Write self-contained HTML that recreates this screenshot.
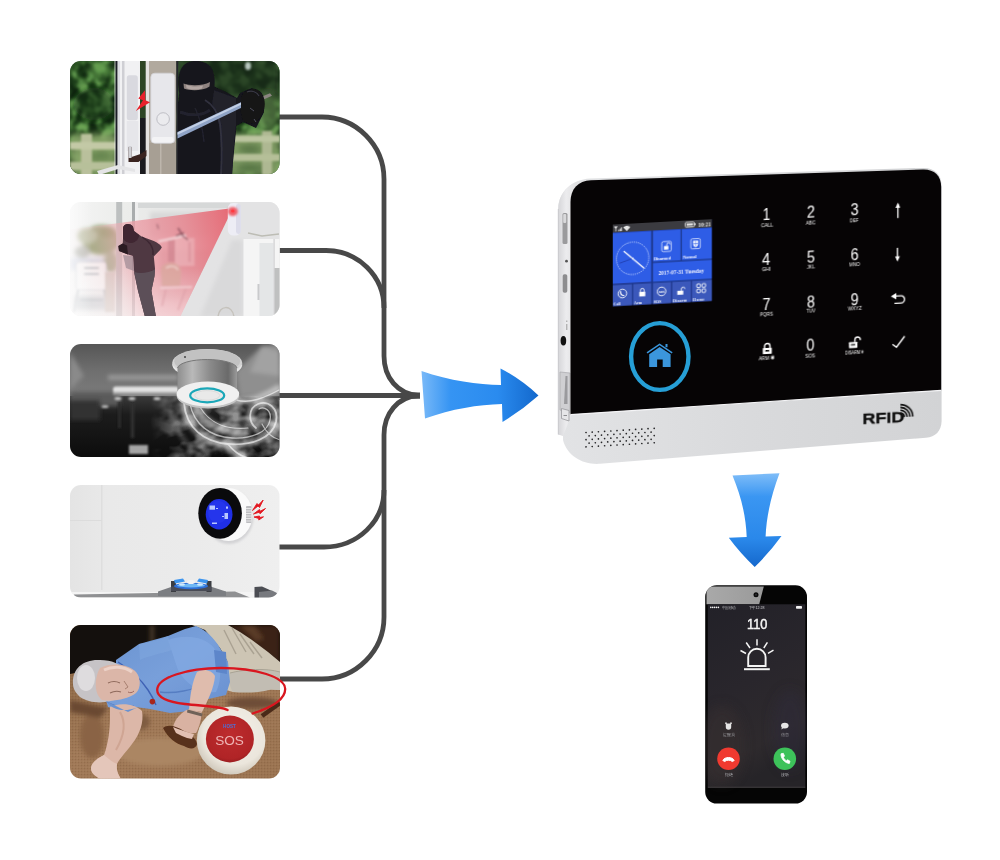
<!DOCTYPE html>
<html><head><meta charset="utf-8">
<style>
html,body{margin:0;padding:0;background:#fff;}
body{width:1000px;height:860px;overflow:hidden;font-family:"Liberation Sans",sans-serif;}
svg{display:block;position:absolute;left:0;top:0;}
text{font-family:"Liberation Sans",sans-serif;}
text.sf{font-family:"Liberation Serif",serif;}
</style></head><body>
<svg width="1000" height="860" viewBox="0 0 1000 860">
<defs>
<clipPath id="c1"><rect x="70" y="61" width="209.500" height="113" rx="11"/></clipPath>
<clipPath id="c2"><rect x="70" y="202" width="209.500" height="114" rx="11"/></clipPath>
<clipPath id="c3"><rect x="70" y="344" width="209.500" height="113" rx="11"/></clipPath>
<clipPath id="c4"><rect x="70" y="485" width="209.500" height="112.500" rx="11"/></clipPath>
<clipPath id="c5"><rect x="70" y="625" width="210" height="153.500" rx="11"/></clipPath>
<filter id="b1" x="-20%" y="-20%" width="140%" height="140%"><feGaussianBlur stdDeviation="1"/></filter>
<filter id="b2" x="-20%" y="-20%" width="140%" height="140%"><feGaussianBlur stdDeviation="2"/></filter>
<filter id="b3" x="-20%" y="-20%" width="140%" height="140%"><feGaussianBlur stdDeviation="3.500"/></filter>
<filter id="b6" x="-30%" y="-30%" width="160%" height="160%"><feGaussianBlur stdDeviation="6"/></filter>
<filter id="t0" x="-10%" y="-10%" width="120%" height="120%"><feGaussianBlur stdDeviation="0.350"/></filter>
<filter id="bh" x="-20%" y="-20%" width="140%" height="140%"><feGaussianBlur stdDeviation="0.500"/></filter>
<linearGradient id="ga" x1="0" x2="1" y1="0" y2="0"><stop offset="0" stop-color="#79b9f8"/><stop offset="0.250" stop-color="#3594f3"/><stop offset="0.650" stop-color="#2a8bef"/><stop offset="1" stop-color="#1368cc"/></linearGradient>
<linearGradient id="gd" x1="0" x2="0" y1="0" y2="1"><stop offset="0" stop-color="#7fbdf8"/><stop offset="0.250" stop-color="#3a96f2"/><stop offset="0.700" stop-color="#2a88ea"/><stop offset="1" stop-color="#1568cc"/></linearGradient>
</defs>

<!-- ====== CONNECTOR LINES ====== -->
<g id="lines" fill="none" stroke="#484848" stroke-width="4.800" stroke-linecap="butt" stroke-linejoin="round">
<path d="M279 117 H322 C356 117 384 145 384 179 V356 C384 378 398 394 418 395.500"/>
<path d="M279 250.500 H326 C358 250.500 384 276 384 308"/>
<path d="M279 395.500 H420"/>
<path d="M279 547 H324 C358 547 384 521 384 490"/>
<path d="M279 679 H322 C356 679 384 651 384 617 V435 C384 413 398 397 418 395.500"/>
</g>
<path d="M398 395.500 C406 392 412 392.400 420 392.400 V398.800 C412 398.800 406 399 398 395.500Z" fill="#484848"/>

<!-- ====== BLUE ARROWS ====== -->
<path id="arrR" d="M421.500 371 C450 381 478 384.500 501 385 L500.500 368.500 Q521 379 538.500 395.500 Q521 411 502.500 422 L502 404 C478 404.500 452 409 425 418.500 Z" fill="url(#ga)"/>
<path id="arrD" d="M732.500 475.500 L779.500 473.300 C771 496 766.500 516 765.600 536.500 L781.500 536 Q770 552 754.700 567 Q740 553 728.800 537.800 L746.700 537 C746 516 741 496 732.500 475.500 Z" fill="url(#gd)"/>

<!-- TILE1S -->
<g clip-path="url(#c1)">
<rect x="70" y="61" width="210" height="114" fill="#2c4a27"/>
<filter id="leaf" x="0" y="0" width="100%" height="100%" color-interpolation-filters="sRGB"><feTurbulence type="fractalNoise" baseFrequency="0.090 0.080" numOctaves="2" seed="7"/><feColorMatrix type="matrix" values="2.600 0 0 0 -0.800  2.600 0 0 0 -0.800  2.600 0 0 0 -0.800  0 0 0 0 1"/><feComponentTransfer><feFuncR type="table" tableValues="0.060 0.110 0.200 0.330 0.420"/><feFuncG type="table" tableValues="0.150 0.240 0.370 0.540 0.640"/><feFuncB type="table" tableValues="0.060 0.100 0.160 0.270 0.330"/></feComponentTransfer><feGaussianBlur stdDeviation="0.800"/></filter>
<rect x="70" y="61" width="210" height="114" filter="url(#leaf)"/>
<g filter="url(#b3)">
<ellipse cx="100" cy="70" rx="12" ry="7" fill="#5f9a4c" opacity="0.700"/>
<ellipse cx="94" cy="104" rx="20" ry="16" fill="#16301a" opacity="0.550"/>
<rect x="70" y="134" width="48" height="44" fill="#8aa46a" opacity="0.900"/>
<rect x="176" y="58" width="104" height="42" fill="#182c1c" opacity="0.780"/>
<ellipse cx="268" cy="112" rx="12" ry="18" fill="#5c7d4a" opacity="0.700"/>
<rect x="228" y="134" width="52" height="42" fill="#88a26a" opacity="0.900"/>
<ellipse cx="250" cy="149" rx="14" ry="4" fill="#4f7040"/>
<ellipse cx="250" cy="168" rx="16" ry="5" fill="#4f7040"/>
<ellipse cx="100" cy="156" rx="14" ry="4" fill="#5f8048"/>
</g>
<g filter="url(#b1)">
<rect x="81" y="134" width="11" height="42" fill="#b9c09c"/>
<rect x="70" y="142" width="48" height="7.500" fill="#c3c9a6"/>
<rect x="70" y="162" width="48" height="8" fill="#b7c09a"/>
<rect x="262" y="131" width="10" height="44" fill="#aeb892"/>
<rect x="232" y="135.500" width="48" height="6.500" fill="#bcc5a0"/>
<rect x="232" y="154" width="48" height="7" fill="#b5bf98"/>
<ellipse cx="248" cy="66" rx="3" ry="4" fill="#b8c8c0"/>
</g>
<!-- door frames -->
<rect x="114.600" y="61" width="1" height="114" fill="#e8ece8"/>
<rect x="115.600" y="61" width="2.200" height="114" fill="#1c1c28"/>
<rect x="117.500" y="61" width="22.500" height="114" fill="#f1f1f3"/>
<rect x="122" y="61" width="2.500" height="114" fill="#cfcfd4"/>
<rect x="118" y="61" width="2" height="114" fill="#dcdce2"/>
<rect x="140" y="61" width="6" height="114" fill="#2d4524"/>
<rect x="140" y="118" width="6" height="57" fill="#1a1a1e"/>
<rect x="145.700" y="61" width="3.500" height="114" fill="#e4e2e0"/>
<rect x="149" y="61" width="27.500" height="114" fill="#b1a99e"/>
<rect x="149" y="143" width="27.500" height="32" fill="#a79f94"/>
<rect x="160" y="143" width="1.500" height="32" fill="#bdb6ac"/>
<rect x="176.300" y="61" width="2" height="114" fill="#25252c"/>
<!-- magnet + sensor -->
<rect x="126.800" y="75.300" width="11" height="45" rx="2.500" fill="#d9d9df"/>
<rect x="126.800" y="121" width="11.500" height="30" fill="#e6e6ea"/>
<rect x="150.800" y="73.200" width="24" height="70" rx="4" fill="#e7e7eb" stroke="#d2d2d6" stroke-width="0.800"/>
<rect x="152" y="137" width="21.500" height="5.500" rx="2" fill="#f3f3f5"/>
<circle cx="163.100" cy="119" r="6.300" fill="#ebebee" stroke="#b9b9c0" stroke-width="0.900"/>
<!-- handle -->
<path d="M128.500 147 h3 v10 l9 -3 l6 -4 v6 l-8 6 h-10 z" fill="#3a2420"/>
<rect x="128.500" y="146" width="3" height="12" fill="#d0d0d4"/>
<path d="M97 171 L118 165 L135 169 L135 172 L118 169 L99 175Z" fill="#e4e4e6"/>
<!-- bolt -->
<path d="M145 90.300 L138.300 98.600 L143 100.200 L135.800 111 L150 102.300 L145.300 100.300 Z" fill="#e8212b"/>
<!-- burglar -->
<g filter="url(#bh)">
<path d="M178 104 L178 175 L232 175 C233 160 235 142 236.500 126 L243 122 L256 128 L264 112 L262 96 L252 88 L240 93 L237 98 L226 92 L213 86 L200 84 L180 90 Z" fill="#14141b"/>
<path d="M179 92 C177 70 182 61 196 61 C210 61 216 70 214.500 86 C214 98 206 107 197 107 C188 107 180 102 179 92Z" fill="#17171c"/>
<path d="M183.500 83.500 C190 86 203 86 210 82 L209.500 86.500 C203 91 190 91 184 88.500Z" fill="#8f8380"/>
<path d="M186 84.500 C191 87 198 87 203 85.500 L202 88.500 C197 90 190 90 186.500 88Z" fill="#c9bcb8" opacity="0.600"/>
<path d="M214 90 L236 98 L236 126 C234 142 233 158 232 175 L222 175 C223 150 222 125 212 104Z" fill="#20202c"/>
<path d="M205 100 C212 104 218 112 220 124 C222 140 222 158 221 175" stroke="#30303e" stroke-width="2" fill="none"/>
<path d="M180 112 C190 116 202 116 210 110" stroke="#24242e" stroke-width="3" fill="none"/>
<path d="M195 108 C200 118 203 130 204 142" stroke="#23232e" stroke-width="1.500" fill="none"/>
</g>
<path d="M177.500 132 L243 101.300 L245 106 L177.500 138.600 Z" fill="#8fa3c6"/>
<path d="M177.500 132.600 L243 101.800 L243.700 103.500 L177.500 134.800 Z" fill="#c3d0e6"/>
<path d="M256 99 L270 93.200 L272 95.800 L257 102.500Z" fill="#8b8580"/>
<g filter="url(#bh)">
<path d="M241 97 C243 90 252 87 258 90 C264 93 266 102 264 110 C262 118 256 125 249 124 C243 123 240 116 241 108Z" fill="#121217"/>
<path d="M247 92 C252 90 257 92 259 96" stroke="#3a3a44" stroke-width="1.200" fill="none"/>
<path d="M250 108 l4 3 M254 119 l2 3" stroke="#55555f" stroke-width="1" fill="none"/>
</g>
</g>
<!-- TILE1E -->
<!-- TILE2S -->
<g clip-path="url(#c2)">
<defs>
<linearGradient id="t2bg" x1="0" x2="1" y1="0" y2="0"><stop offset="0" stop-color="#f4f4f4"/><stop offset="0.250" stop-color="#ecedeb"/><stop offset="0.700" stop-color="#e2e2e3"/><stop offset="1" stop-color="#e9e9ea"/></linearGradient>
<linearGradient id="beam" gradientUnits="userSpaceOnUse" x1="234" y1="209" x2="70" y2="250"><stop offset="0" stop-color="#e5606c" stop-opacity="0.950"/><stop offset="0.300" stop-color="#e7858f" stop-opacity="0.860"/><stop offset="0.600" stop-color="#eb9ea7" stop-opacity="0.780"/><stop offset="0.720" stop-color="#eeb0b6" stop-opacity="0.550"/><stop offset="0.850" stop-color="#f0c0c4" stop-opacity="0.220"/><stop offset="1" stop-color="#f3d0d4" stop-opacity="0.050"/></linearGradient>
<linearGradient id="beamfade" x1="0" x2="0" y1="0" y2="1"><stop offset="0" stop-color="#fff" stop-opacity="0"/><stop offset="1" stop-color="#fff" stop-opacity="0.450"/></linearGradient>
<linearGradient id="t2fade" x1="0" x2="1" y1="0" y2="0"><stop offset="0" stop-color="#fff" stop-opacity="0.600"/><stop offset="1" stop-color="#fff" stop-opacity="0"/></linearGradient>
</defs>
<rect x="70" y="202" width="210" height="115" fill="url(#t2bg)"/>
<g filter="url(#b2)">
<ellipse cx="101" cy="240" rx="19" ry="15" fill="#9ba77d"/>
<ellipse cx="108" cy="232" rx="8" ry="6" fill="#8a9a68"/>
<ellipse cx="87" cy="236" rx="10" ry="8" fill="#bcc4a8"/>
<ellipse cx="111" cy="262" rx="7" ry="11" fill="#a9b294"/>
<ellipse cx="82" cy="252" rx="8" ry="6" fill="#b9bdb6"/>
<rect x="70" y="258" width="34" height="12" fill="#d9dee8"/>
<rect x="74" y="296" width="36" height="14" fill="#d0d3d6"/>
<rect x="150" y="212" width="60" height="24" fill="#d8d8d8"/>
<rect x="160" y="250" width="50" height="50" fill="#cfcaca"/>
</g>
<g filter="url(#b1)">
<rect x="76" y="262" width="30" height="28" rx="3" fill="#f7f7f7" stroke="#d5d8dc" stroke-width="1"/>
<path d="M78 290 L74 312 M104 290 L108 312 M80 300 H103 M84 268 H99 M84 274 H99" stroke="#bfc4c8" stroke-width="1.800" fill="none"/>
<rect x="105" y="272" width="10" height="40" fill="#d6cfc8"/>
</g>
<!-- frames -->
<rect x="116.200" y="202" width="6" height="115" fill="#bdc0c0"/>
<rect x="132" y="202" width="3" height="115" fill="#a9acad"/>
<rect x="135" y="202" width="3.500" height="115" fill="#eeeeee"/>
<rect x="138" y="203" width="92" height="5" fill="#d6d8d8"/>
<!-- wall right -->
<path d="M232 209 L180 317 L280 317 L280 202 L232 202Z" fill="#e3e3e4"/>
<path d="M232 240 L200 317 L243 317 L243 240Z" fill="#d9d9da" filter="url(#b2)"/>
<!-- beam -->
<path d="M233 208 L70 229.500 L70 317 L180 317 Z" fill="url(#beam)"/>
<path d="M70 268 L204 268 L180 317 L70 317Z" fill="url(#beamfade)"/>
<rect x="70" y="202" width="22" height="115" fill="url(#t2fade)"/>
<!-- interior furniture silhouettes in beam -->
<g filter="url(#b1)">
<rect x="168" y="240" width="7" height="22" fill="#c9808a" opacity="0.550"/>
<rect x="175" y="238" width="19.500" height="28" fill="#f0c4c8" opacity="0.450"/>
<rect x="188" y="242" width="3" height="20" fill="#d58a94" opacity="0.500"/>
<path d="M158 240.500 L186 234.600 L186.300 236.600 L158.300 242.500Z" fill="#f6e2e4" opacity="0.850"/>
<path d="M178 228 L183 236 L188 240 M176 236 L184 233" stroke="#7a4452" stroke-width="1.500" fill="none" opacity="0.800"/>
<path d="M157 224 l1.500 5" stroke="#8a5560" stroke-width="1.200" opacity="0.700"/>
<path d="M161 270 C161 264 168 262 174 263 C180 264 182 270 181 276 L180 286 L162 286Z" fill="#d8aa9e" opacity="0.700"/>
<path d="M166 268 C170 265 176 266 178 270" stroke="#f2dcd6" stroke-width="1.500" fill="none" opacity="0.800"/>
<path d="M160 288 L192 287" stroke="#f6e0e2" stroke-width="1.600" opacity="0.800"/>
<path d="M166 289 L162 306 M186 288 L178 310" stroke="#d89aa2" stroke-width="1.300" opacity="0.700"/>
<rect x="147" y="250" width="2.500" height="40" fill="#ecc8cc" opacity="0.600"/>
</g>
<!-- burglar -->
<g filter="url(#bh)">
<path d="M123 228 C123.500 223.500 130 222.500 133 226.500 L134 231 L141.600 236.500 L153.800 241 C158 243 161.500 245.500 161.800 247.600 C160 251 156 254 153.800 256.500 L155 268.700 L154.500 276 L151.400 290.700 L155.700 315 L156 317 L145 317 L138 290.700 L134.300 273.600 L133 256 L128 254.500 L119 251 L118.400 246 L122.700 243.500 L123 238.200 Z" fill="#4f3742"/>
<path d="M123 228 C123.500 223.500 130 222.500 133 226.500 L134 231 L139 235 C139 239 136 242 132 243 C128 243 124 241 123 238.200Z" fill="#3f2630"/>
<path d="M134.300 272 C140 274 149 273 155 269.500 L154.500 276 L151.400 290.700 L155.700 315 L156 317 L145 317 L138 290.700Z" fill="#5c5059"/>
<path d="M118.400 246 L122.700 243.500 L127 245.500 L128 254.500 L119 251Z" fill="#2c1a22"/>
<path d="M123 255 L133 256 L134 271 L126 268 Z" fill="#8f808a" opacity="0.600"/>
<path d="M142 237 C149 241 154 247 153 255" stroke="#3d2832" stroke-width="1.400" fill="none"/>
</g>
<!-- cabinet -->
<rect x="243.500" y="239" width="37" height="78" fill="#f5f5f5"/>
<rect x="259.500" y="243" width="14" height="74" fill="#e4e6e7"/>
<rect x="273.500" y="239" width="1.200" height="78" fill="#d0d0d2"/>
<rect x="274.500" y="268" width="6" height="49" fill="#bfc0c0"/>
<rect x="257.500" y="284" width="2" height="16" fill="#c9cacc"/>
<path d="M248 233 L262 236 L279 234" stroke="#bdbdb5" stroke-width="1.500" fill="none" filter="url(#bh)"/>
<path d="M218 317 C219 305 232 304 234 317" stroke="#c5c2bc" stroke-width="1.500" fill="none"/>
<!-- sensor -->
<rect x="227.800" y="203" width="13" height="32.500" rx="5.500" fill="#ededf5"/>
<rect x="236" y="204" width="4.800" height="30" rx="2.400" fill="#dcdcea"/>
<ellipse cx="232.800" cy="211.500" rx="5" ry="4.500" fill="#f0616b" filter="url(#b1)"/>
<ellipse cx="232.800" cy="211" rx="1.800" ry="1.600" fill="#ff3a40"/>
</g>
<!-- TILE2E -->
<!-- TILE3S -->
<g clip-path="url(#c3)">
<defs>
<linearGradient id="t3top" x1="0" x2="0" y1="0" y2="1"><stop offset="0" stop-color="#565656"/><stop offset="0.500" stop-color="#707070"/><stop offset="1" stop-color="#7e7e7e"/></linearGradient>
<linearGradient id="t3bot" x1="0" x2="0" y1="0" y2="1"><stop offset="0" stop-color="#3a3a3a"/><stop offset="0.300" stop-color="#1c1c1c"/><stop offset="1" stop-color="#0c0c0c"/></linearGradient>
<linearGradient id="t3cyl" x1="0" x2="1" y1="0" y2="0"><stop offset="0" stop-color="#8e8e8e"/><stop offset="0.250" stop-color="#b9b9b9"/><stop offset="0.550" stop-color="#8a8a8a"/><stop offset="0.850" stop-color="#6a6a6a"/><stop offset="1" stop-color="#9a9a9a"/></linearGradient>
</defs>
<rect x="70" y="344" width="210" height="56" fill="url(#t3top)"/>
<rect x="70" y="396" width="210" height="62" fill="url(#t3bot)"/>
<g filter="url(#b2)">
<path d="M70 352 L84 376 L70 390Z" fill="#8a8a8a"/>
<rect x="108" y="375" width="70" height="5" fill="#9a9a9a"/>
<path d="M236 372 L262 346 L280 344 L280 396 L240 396Z" fill="#8f8f8f"/>
<path d="M262 346 L280 352 L280 376 L250 372Z" fill="#a2a2a2"/>
<rect x="70" y="392" width="50" height="14" fill="#5a5a5a"/>
<rect x="70" y="400" width="30" height="20" fill="#333"/>
</g>
<g filter="url(#b1)">
<rect x="113" y="386.500" width="66" height="6.500" rx="3" fill="#e2e2e2"/>
<rect x="113" y="392" width="66" height="3" fill="#9c9c9c"/>
<ellipse cx="118" cy="398.500" rx="3.500" ry="1.500" fill="#cfcfcf"/>
<ellipse cx="132" cy="398.500" rx="3.500" ry="1.500" fill="#cfcfcf"/>
<ellipse cx="157" cy="398.500" rx="3.500" ry="1.500" fill="#cfcfcf"/>
<ellipse cx="105" cy="406.500" rx="3.500" ry="1.500" fill="#b9b9b9"/>
<rect x="129" y="445" width="19" height="9" fill="#a5a5a5"/>
<rect x="118" y="402" width="3" height="26" fill="#2c2c2c"/>
<rect x="131" y="402" width="3" height="36" fill="#303030"/>
</g>
<filter id="haze" x="0" y="0" width="100%" height="100%" color-interpolation-filters="sRGB"><feTurbulence type="fractalNoise" baseFrequency="0.045 0.060" numOctaves="3" seed="11"/><feColorMatrix type="matrix" values="0 0 0 0 1  0 0 0 0 1  0 0 0 0 1  2.800 0 0 0 -1.050"/><feGaussianBlur stdDeviation="0.600"/></filter>
<linearGradient id="hzm" x1="0" x2="1" y1="0" y2="0"><stop offset="0" stop-color="#fff" stop-opacity="0"/><stop offset="0.300" stop-color="#fff" stop-opacity="0.900"/><stop offset="1" stop-color="#fff" stop-opacity="1"/></linearGradient>
<mask id="hzmask"><rect x="150" y="396" width="130" height="62" fill="url(#hzm)"/></mask>
<g mask="url(#hzmask)"><rect x="150" y="396" width="130" height="62" filter="url(#haze)" opacity="0.550"/></g>
<!-- smoke -->
<g fill="none" stroke="#fff" stroke-linecap="round">
<g filter="url(#b2)" opacity="0.450">
<path d="M184 403 C186 428 204 442 228 444 C252 446 272 438 276 422 C279 408 268 400 258 404 C248 408 248 422 256 428" stroke-width="7"/>
<path d="M196 406 C204 424 224 434 246 432" stroke-width="8"/>
<path d="M230 400 C246 404 262 398 278 388" stroke-width="6"/>
<path d="M226 446 C232 452 238 456 244 458" stroke-width="7"/>
<path d="M170 410 C176 430 186 446 200 456" stroke-width="4" opacity="0.500"/>
</g>
<g filter="url(#bh)" opacity="0.600">
<path d="M184 403 C186 428 204 442 228 444 C252 446 272 438 276 422 C279 408 268 400 258 404 C248 408 248 422 256 428" stroke-width="1.800"/>
<path d="M190 404 C194 424 210 437 232 438 C252 439 268 432 270 420 C272 410 264 406 259 409" stroke-width="1.300"/>
<path d="M200 407 C210 424 228 430 248 428" stroke-width="1.200"/>
<path d="M228 444 C234 452 240 456 248 458" stroke-width="1.600"/>
<path d="M236 400 C250 404 264 398 279 390" stroke-width="1.400"/>
<path d="M262 424 C266 432 272 438 280 440" stroke-width="1.200"/>
</g>
</g>
<!-- detector -->
<ellipse cx="207.200" cy="362.700" rx="35" ry="13.800" fill="#d4d4d4"/>
<ellipse cx="207.200" cy="361.200" rx="33" ry="12" fill="#c2c2c2"/>
<path d="M172.300 362.700 A35 13.800 0 0 0 242.200 362.700 L242.200 365.500 A35 13.800 0 0 1 172.300 365.500Z" fill="#e6e6e6"/>
<path d="M177.500 368 A29.800 9 0 0 1 237 368 L237 392 A29.800 11 0 0 1 177.500 392Z" fill="url(#t3cyl)"/>
<path d="M177.500 368 A29.800 9 0 0 1 237 368" fill="none" stroke="#777" stroke-width="1"/>
<ellipse cx="207.900" cy="396" rx="31.300" ry="12.400" fill="#c4c4c4"/>
<ellipse cx="207.900" cy="394" rx="31.300" ry="12.400" fill="#f0f0f0"/>
<ellipse cx="207.200" cy="395.400" rx="17" ry="7" fill="#e9e9e9" stroke="#1ba7b8" stroke-width="2.200"/>
<ellipse cx="207.200" cy="395.400" rx="12.500" ry="4.800" fill="none" stroke="#d8d8d8" stroke-width="0.800"/>
<circle cx="185" cy="357" r="1" fill="#444"/>
</g>
<!-- TILE3E -->
<!-- TILE4S -->
<g clip-path="url(#c4)">
<defs>
<linearGradient id="t4bg" x1="0" x2="1" y1="0" y2="0"><stop offset="0" stop-color="#e4e4e4"/><stop offset="0.180" stop-color="#e9e9e9"/><stop offset="0.600" stop-color="#ebebeb"/><stop offset="1" stop-color="#efefef"/></linearGradient>
</defs>
<rect x="70" y="485" width="210" height="113" fill="url(#t4bg)"/>
<rect x="101" y="485" width="1.500" height="105" fill="#dedede"/>
<rect x="70" y="520" width="32" height="1" fill="#dcdcdc"/>
<!-- countertop -->
<rect x="70" y="592" width="210" height="6" fill="#f4f4f4"/>
<path d="M74 594.500 L235 591.500 L250 597.600 L74 597.600Z" fill="#8f9092" filter="url(#bh)"/>
<!-- stove -->
<g filter="url(#bh)">
<path d="M158 591.500 L171 587 L212 587 L226 591.500 L226 596 L158 596Z" fill="#7c7e82"/>
<path d="M171 581 h5 v11 h-5z M206.500 581 h5 v11 h-5z" fill="#3a3c42"/>
<path d="M171 586.500 h40.500 v4.500 h-40.500z" fill="#4a4c54"/>
<ellipse cx="191" cy="586" rx="17" ry="3.200" fill="#2e6fd8"/>
<path d="M174 580 l9 -1.500 l2 3 l-10 2z M208 580 l-9 -1.500 l-2 3 l10 2z" fill="#3d95ee"/>
<ellipse cx="191" cy="585.600" rx="14" ry="1.800" fill="#6fb8f5"/>
<ellipse cx="182" cy="584.500" rx="3" ry="1.200" fill="#cfeaff"/>
<ellipse cx="200" cy="584.500" rx="3" ry="1.200" fill="#cfeaff"/>
<ellipse cx="191" cy="582" rx="4" ry="2" fill="#f2f2f4"/>
<path d="M254.500 587 L262 586.500 L272 591 L272 598 L254.500 598Z" fill="#4b4d52"/>
<path d="M259 592 L272 590.500 L279 594 L279 598 L259 598Z" fill="#77797e"/>
</g>
<!-- gas detector -->
<ellipse cx="229" cy="517" rx="24.500" ry="27" fill="#d3d3d5" filter="url(#b1)"/>
<ellipse cx="228.500" cy="514.500" rx="24" ry="26.500" fill="#fafafa"/>
<g>
<rect x="246" y="506" width="5.500" height="17" rx="1" fill="#bdbdc0"/>
<path d="M246 508.500 h5.500 M246 511 h5.500 M246 513.500 h5.500 M246 516 h5.500 M246 518.500 h5.500 M246 521 h5.500" stroke="#f2f2f2" stroke-width="0.800"/>
</g>
<ellipse cx="220.100" cy="513.300" rx="21.800" ry="25.400" fill="#0a0a0c"/>
<ellipse cx="219.100" cy="514.300" rx="13.400" ry="15.300" fill="#1f2fe6"/>
<ellipse cx="218" cy="512" rx="10" ry="11" fill="#2a3af0" opacity="0.600"/>
<g fill="#b9c8ff" filter="url(#bh)">
<rect x="209.500" y="505.500" width="5.500" height="4.200"/>
<rect x="216" y="508" width="2" height="1"/>
<rect x="226" y="506.500" width="2" height="2.200"/>
<rect x="224.500" y="513" width="3.500" height="6"/>
<rect x="222" y="516" width="2" height="1"/>
<rect x="212" y="522.500" width="5" height="1.500"/>
</g>
<!-- flashes -->
<g fill="#e3161f" stroke="#e3161f" stroke-width="0.900" stroke-linejoin="round">
<path d="M252.500 510.500 L257 503.500 L258.500 505 L263.200 500 L259.500 507.500 L258 506 Z"/>
<path d="M253.500 514 L259.500 509.500 L260.200 511.200 L265.500 508.500 L260 513.800 L259.300 512.200 Z"/>
<path d="M254 517 L259.500 516 L259.500 517.500 L263.500 516.800 L258.800 520 L258.800 518.500 Z"/>
</g>
</g>
<!-- TILE4E -->
<!-- TILE5S -->
<g clip-path="url(#c5)">
<defs>
<linearGradient id="t5fl" x1="0" x2="1" y1="0" y2="1"><stop offset="0" stop-color="#86623f"/><stop offset="0.450" stop-color="#a07957"/><stop offset="1" stop-color="#9a7350"/></linearGradient>
<radialGradient id="t5btn" cx="0.550" cy="0.400" r="0.650"><stop offset="0" stop-color="#f4f1ea"/><stop offset="0.700" stop-color="#ebe6dc"/><stop offset="1" stop-color="#c9c1b3"/></radialGradient>
<radialGradient id="t5red" cx="0.500" cy="0.400" r="0.650"><stop offset="0" stop-color="#bd2c2e"/><stop offset="0.800" stop-color="#b02426"/><stop offset="1" stop-color="#8f1a1c"/></radialGradient>
<linearGradient id="t5sh" x1="0" x2="1" y1="0" y2="1"><stop offset="0" stop-color="#6a93d0"/><stop offset="0.500" stop-color="#789fda"/><stop offset="1" stop-color="#6890d0"/></linearGradient>
<pattern id="carp" width="3" height="3" patternUnits="userSpaceOnUse"><rect width="3" height="3" fill="none"/><rect x="0" y="0" width="1.200" height="1.200" fill="#6e4c30" opacity="0.250"/><rect x="1.600" y="1.700" width="1.100" height="1.100" fill="#c9a888" opacity="0.220"/></pattern>
</defs>
<rect x="70" y="625" width="210" height="154" fill="url(#t5fl)"/>
<rect x="70" y="625" width="210" height="154" fill="url(#carp)"/>
<path d="M70 625 H280 V670 L230 660 L160 650 L100 668 L70 674Z" fill="#14100d"/>
<g filter="url(#b2)">
<path d="M226 625 H280 V664 L262 652 L240 634Z" fill="#3a2418"/>
<path d="M240 625 h14 l10 14 l-8 2z" fill="#5a3a26"/>
<ellipse cx="160" cy="752" rx="44" ry="14" fill="#ab8664"/>
<ellipse cx="92" cy="736" rx="12" ry="22" fill="#8a6444"/>
<path d="M70 700 L108 708 L100 718 L70 712Z" fill="#6a4a33"/>
<ellipse cx="252" cy="703" rx="26" ry="6" fill="#6e4e38"/>
<ellipse cx="140" cy="722" rx="10" ry="8" fill="#7f5c40"/>
<rect x="150" y="625" width="4" height="20" fill="#4a3a2c"/>
</g>
<!-- pants -->
<g filter="url(#bh)">
<path d="M192 625 H228 L240 632 L252 640 L268 652 L280 662 V690 L271 689.500 L233 692 L226 690 L228 662 L220 648 L205 630Z" fill="#cdc5b4"/>
<path d="M230 673 C245 669 266 668 280 672 V690 L271 689.500 C258 693 244 693 233 692 C229 686 229 679 230 673Z" fill="#c2bdb3"/>
<path d="M224 630 L236 654 M232 628 L246 652 M240 634 L254 654 M250 642 L262 658" stroke="#aaa292" stroke-width="1.400" fill="none"/>
<path d="M230 673 C245 669 266 668 280 672" stroke="#a9a395" stroke-width="1" fill="none"/>
</g>
<!-- shirt -->
<g filter="url(#bh)">
<path d="M116 660 L139 644 L168 636 L185 629 L196 626 C206 630 214 638 220 648 L228 662 L230 682 L226 695 L204 700 L190 711 L170 713 L150 709 L136 707 L128 712 L108 707 L106 700 L116 694 Z" fill="url(#t5sh)"/>
<path d="M168 640 C185 634 204 636 214 648 C222 662 222 680 216 692 C200 694 186 684 178 670Z" fill="#86ace4" opacity="0.600"/>
<path d="M139 644 C150 642 160 640 168 636 L172 650 C160 654 148 656 140 660Z" fill="#7fa6de" opacity="0.600"/>
<path d="M118 662 C128 668 140 678 148 690 C152 696 154 700 156 705" stroke="#3f62b5" stroke-width="1.400" fill="none"/>
<path d="M160 692 C175 694 193 690 204 684" stroke="#557dc2" stroke-width="1.400" fill="none"/>
<path d="M214 650 L226 652 L227 674 L216 672Z" fill="#5d86ca"/>
<path d="M106 701 C112 706 122 708 134 706" stroke="#4f76bc" stroke-width="1.200" fill="none"/>
<circle cx="152.400" cy="701.600" r="2.800" fill="#a8281c"/>
</g>
<!-- forearm on belly + hand -->
<g filter="url(#bh)">
<path d="M197 672 C203 668 212 670 215 676 C214 688 208 700 202 712 L189 710 C190 696 192 682 197 672Z" fill="#dfbcad"/>
<path d="M189 709 L202 712.500 C201 720 199 728 196 733 L190 733 L184 731 L178 729 L173 727 C175 719 181 712 189 709Z" fill="#d9b2a2"/>
<path d="M187.500 709.500 L202.500 713.500 L202 716.500 L187 712.500Z" fill="#6f6258"/>
<path d="M163 728 C168 724 176 726 184 731 C190 734 196 738 197 744 C196 749 190 750 184 746 C176 744 168 738 163 728Z" fill="#59301a"/>
<path d="M173 727 l5 2 l6 2 l6 2 l4 1 l-2 5 l-5 -1 l-5 -2 l-6 -3z" fill="#e2c0b2"/>
</g>
<!-- head -->
<g filter="url(#bh)">
<path d="M73 684 C72 668 84 659 100 660 C112 660 120 664 124 670 L118 698 C108 704 90 704 80 697 C76 693 73 689 73 684Z" fill="#c6c3c6"/>
<ellipse cx="86" cy="678" rx="9" ry="13" fill="#deDCde"/>
<path d="M100 668 C112 662 128 664 136 672 C141 678 141 688 136 693 C128 699 114 702 102 700 C94 694 94 678 100 668Z" fill="#dbb6a8"/>
<path d="M104 670 C112 666 124 666 132 672" stroke="#ecd2c8" stroke-width="3" fill="none"/>
<path d="M108 683 C112 681 116 681 120 683 M110 693 C114 691 118 691 121 692" stroke="#8f6a5c" stroke-width="1.100" fill="none"/>
<path d="M124 681 l4 6 l-3 2" stroke="#a88070" stroke-width="1" fill="none"/>
<path d="M128 692 c2 1 4 1 6 -1" stroke="#a06a60" stroke-width="1" fill="none"/>
</g>
<!-- arm -->
<g filter="url(#bh)">
<path d="M110 707 C120 702 136 704 142 711 C144 722 140 734 132 744 C126 752 120 758 117 764 C116 770 118 774 121 779 L100 779 C96 776 91 774 91 768 C92 762 98 758 104 755 C108 744 110 730 110 718Z" fill="#dcb7a8"/>
<path d="M104 755 C98 758 92 762 91 768 C91 774 96 776 100 779 L121 779 C118 774 116 770 117 764 C112 762 108 758 104 755Z" fill="#e4c6ba"/>
<path d="M120 712 C126 722 124 736 116 750" stroke="#c99c8a" stroke-width="2" fill="none" opacity="0.700"/>
<path d="M106 701 C112 710 124 713 138 707 L128 712Z" fill="#6a92d0"/>
</g>
<!-- cane -->
<path d="M262 716 L280 703" stroke="#4a2a18" stroke-width="4.500"/>
</g>
<!-- button (outside clip to allow lasso overflow) -->
<g>
<ellipse cx="231.100" cy="740.500" rx="34.300" ry="34.100" fill="url(#t5btn)"/>
<ellipse cx="229.900" cy="739" rx="24" ry="23.400" fill="url(#t5red)"/>
<text x="229.600" y="744.900" font-size="13.600" text-anchor="middle" fill="#eeb4b4" filter="url(#t0)">SOS</text>
<text x="229.500" y="728.200" font-size="4.600" font-weight="bold" text-anchor="middle" fill="#4f6fd6" filter="url(#t0)">HOST</text>
<path d="M227.600 710 C220 706 200 706 185 704 C168 702 157.200 698 157.200 690 C157.200 678 186 668 221 668 C256 668 285.200 677 285.200 689 C285.200 700 270 708 252.600 713.500" fill="none" stroke="#d9161f" stroke-width="2.300" stroke-linecap="round"/>
</g>
<!-- TILE5E -->
<!-- PANELS -->
<g id="panel">
<defs>
<linearGradient id="pSil" x1="0" x2="1" y1="0" y2="0"><stop offset="0" stop-color="#e2e3e5"/><stop offset="0.500" stop-color="#d9dadc"/><stop offset="1" stop-color="#d2d3d5"/></linearGradient>
<linearGradient id="pSide" x1="0" x2="1" y1="0" y2="0"><stop offset="0" stop-color="#d6d6d9"/><stop offset="0.400" stop-color="#ececee"/><stop offset="1" stop-color="#dededf"/></linearGradient>
<radialGradient id="ringG" cx="0.500" cy="0.500" r="0.500"><stop offset="0.800" stop-color="#1d8fd0"/><stop offset="1" stop-color="#2aa6dc"/></radialGradient>
</defs>
<!-- outer bezel/silver body -->
<path d="M558.300 209 C558.300 192 572 179.500 590 178.500 L923 167.900 C934.500 167.600 941.600 174 941.600 186 L941.600 420.500 C941.600 431 935.500 437 926 437.800 L600 463.800 C583 465 567 456 563 440 L563 435.500 L558.300 434.500 Z" fill="url(#pSil)"/>
<!-- side strip -->
<path d="M558.300 209 C558.300 196 566 186 578 181.500 L571 200 L571 416 L563 436 L558.300 434.500 Z" fill="url(#pSide)"/>
<path d="M558.300 209 L558.300 434.500" stroke="#c4c4c8" stroke-width="0.800"/>
<!-- side features -->
<rect x="562.500" y="213" width="5" height="31" rx="1.500" fill="#9b9b9d"/>
<rect x="563.200" y="214" width="3" height="9" rx="1" fill="#d9d9db"/>
<circle cx="566.500" cy="261.200" r="1.400" fill="#555"/>
<rect x="562.700" y="274.200" width="4.600" height="18.600" rx="1.800" fill="#8d8d8f"/>
<ellipse cx="563.400" cy="340.700" rx="2.800" ry="4.800" fill="#111"/>
<path d="M566.800 330 v-6 m0 -2 v-1.500" stroke="#888" stroke-width="0.800"/>
<path d="M560 372 L570 373 L570 413 L560 410 Z" fill="#cfcfd2" stroke="#a9a9ad" stroke-width="0.700"/>
<path d="M565.500 376 L567.500 376 L567.500 404 L564 404 Z" fill="#9a9a9d"/>
<path d="M561.500 408.500 L569 410.500 L569 421 L561.500 418.500Z" fill="#e6e6e8" stroke="#98989c" stroke-width="0.800"/>
<path d="M563.500 415.500 h3.500" stroke="#77777b" stroke-width="0.800"/>
<!-- black face -->
<path d="M570.500 202 C570.500 189 578 181 591 180.300 L923 169.400 C934 169.100 941.200 175.500 941.200 187 L941.200 390.300 L570.500 414.600 Z" fill="#060405"/>
<path d="M570.500 414.600 L941.200 390.300" stroke="#f4f4f6" stroke-width="1.200"/>
<!-- speaker dots -->
<g fill="#262628" transform="translate(586,432.500) skewY(-3.500)">
<circle cx="0.0" cy="0.0" r="0.85"/><circle cx="6.2" cy="0.0" r="0.85"/><circle cx="12.4" cy="0.0" r="0.85"/><circle cx="18.6" cy="0.0" r="0.85"/><circle cx="24.8" cy="0.0" r="0.85"/><circle cx="31.0" cy="0.0" r="0.85"/><circle cx="37.2" cy="0.0" r="0.85"/><circle cx="43.4" cy="0.0" r="0.85"/><circle cx="49.6" cy="0.0" r="0.85"/><circle cx="55.8" cy="0.0" r="0.85"/><circle cx="62.0" cy="0.0" r="0.85"/><circle cx="68.2" cy="0.0" r="0.85"/><circle cx="3.1" cy="3.6" r="0.85"/><circle cx="9.3" cy="3.6" r="0.85"/><circle cx="15.5" cy="3.6" r="0.85"/><circle cx="21.7" cy="3.6" r="0.85"/><circle cx="27.9" cy="3.6" r="0.85"/><circle cx="34.1" cy="3.6" r="0.85"/><circle cx="40.3" cy="3.6" r="0.85"/><circle cx="46.5" cy="3.6" r="0.85"/><circle cx="52.7" cy="3.6" r="0.85"/><circle cx="58.9" cy="3.6" r="0.85"/><circle cx="65.1" cy="3.6" r="0.85"/><circle cx="0.0" cy="7.2" r="0.85"/><circle cx="6.2" cy="7.2" r="0.85"/><circle cx="12.4" cy="7.2" r="0.85"/><circle cx="18.6" cy="7.2" r="0.85"/><circle cx="24.8" cy="7.2" r="0.85"/><circle cx="31.0" cy="7.2" r="0.85"/><circle cx="37.2" cy="7.2" r="0.85"/><circle cx="43.4" cy="7.2" r="0.85"/><circle cx="49.6" cy="7.2" r="0.85"/><circle cx="55.8" cy="7.2" r="0.85"/><circle cx="62.0" cy="7.2" r="0.85"/><circle cx="68.2" cy="7.2" r="0.85"/><circle cx="3.1" cy="10.8" r="0.85"/><circle cx="9.3" cy="10.8" r="0.85"/><circle cx="15.5" cy="10.8" r="0.85"/><circle cx="21.7" cy="10.8" r="0.85"/><circle cx="27.9" cy="10.8" r="0.85"/><circle cx="34.1" cy="10.8" r="0.85"/><circle cx="40.3" cy="10.8" r="0.85"/><circle cx="46.5" cy="10.8" r="0.85"/><circle cx="52.7" cy="10.8" r="0.85"/><circle cx="58.9" cy="10.8" r="0.85"/><circle cx="65.1" cy="10.8" r="0.85"/><circle cx="0.0" cy="14.4" r="0.85"/><circle cx="6.2" cy="14.4" r="0.85"/><circle cx="12.4" cy="14.4" r="0.85"/><circle cx="18.6" cy="14.4" r="0.85"/><circle cx="24.8" cy="14.4" r="0.85"/><circle cx="31.0" cy="14.4" r="0.85"/><circle cx="37.2" cy="14.4" r="0.85"/><circle cx="43.4" cy="14.4" r="0.85"/><circle cx="49.6" cy="14.4" r="0.85"/><circle cx="55.8" cy="14.4" r="0.85"/><circle cx="62.0" cy="14.4" r="0.85"/><circle cx="68.2" cy="14.4" r="0.85"/>
</g>
<!-- home ring -->
<g filter="url(#t0)">
<ellipse cx="659.800" cy="356.500" rx="28.700" ry="33.400" fill="none" stroke="#279fd6" stroke-width="4.400"/>
<g fill="#3a96dc">
<path d="M659.600 343.400 L646.600 352.300 L647.500 353.500 L659.600 345.300 L671.700 353.500 L672.600 352.300 Z"/>
<path d="M649.200 354.300 L659.600 347.100 L670.600 354.300 L670.600 366.900 L662.700 366.900 L662.700 359.500 L657.100 359.500 L657.100 366.900 L649.200 366.900Z"/>
<rect x="665.500" y="344" width="2" height="3.200"/>
</g>
</g>
<!-- LCD -->
<g transform="translate(612.800,224.600) skewY(-3.120)" filter="url(#t0)">
<rect x="0" y="0" width="99" height="81.600" fill="#1d3488"/>
<rect x="0" y="0" width="99" height="8" fill="#3b3b3f"/>
<rect x="0" y="8.400" width="38.400" height="50.800" fill="#2f5de6"/>
<rect x="40.200" y="8.400" width="27.600" height="31" fill="#2f5de6"/>
<rect x="69" y="8.400" width="30" height="31" fill="#2f5de6"/>
<rect x="40.200" y="40.600" width="58.800" height="18.800" fill="#2f5de6"/>
<rect x="0" y="60.600" width="19.200" height="21" fill="#3b59bb"/>
<rect x="20.400" y="60.600" width="18" height="21" fill="#3b59bb"/>
<rect x="40.200" y="60.600" width="18" height="21" fill="#3b59bb"/>
<rect x="59.400" y="60.600" width="18.600" height="21" fill="#3b59bb"/>
<rect x="79.200" y="60.600" width="19.800" height="21" fill="#3b59bb"/>
<!-- status icons -->
<g fill="#e8e8e8">
<path d="M1 2 h4 l-1.600 2 v3 h-0.800 v-3z"/>
<rect x="5.400" y="5.500" width="1" height="1.500"/><rect x="6.800" y="4.500" width="1" height="2.500"/><rect x="8.200" y="3.300" width="1" height="3.700"/>
<path d="M10.500 3.500 C12.500 1.500 15.500 1.500 17.500 3.500 L14 7.200Z"/>
<rect x="72.500" y="1.800" width="9" height="4.800" rx="1" fill="none" stroke="#e8e8e8" stroke-width="0.900"/>
<rect x="73.800" y="3.100" width="6.400" height="2.200"/>
<rect x="81.800" y="3.200" width="1" height="2"/>
</g>
<text x="98" y="6.600" font-size="5.400" font-weight="bold" text-anchor="end" fill="#f2f2f2" class="sf">10:21</text>
<!-- clock -->
<circle cx="19.800" cy="34.800" r="16.200" fill="none" stroke="#cfe0ff" stroke-width="0.900" stroke-dasharray="1.200 1"/>
<path d="M11.300 27.500 L31 45" stroke="#fff" stroke-width="1.200" stroke-linecap="round"/>
<path d="M19.800 34.800 L6.500 39.200" stroke="#1c3aa8" stroke-width="0.800"/>
<circle cx="19.800" cy="34.800" r="0.900" fill="#fff"/>
<!-- disarmed icon -->
<g transform="translate(0,4.300)"><rect x="49" y="15.500" width="9.500" height="10" rx="1.500" fill="none" stroke="#dfe8ff" stroke-width="0.800"/>
<rect x="51.200" y="20" width="4.400" height="3.600" fill="#fff"/>
<path d="M54 20 v-1.500 a1.600 1.600 0 0 1 3.200 0" stroke="#fff" stroke-width="0.800" fill="none"/></g>
<text x="41" y="37.800" font-size="4.300" font-weight="bold" fill="#f4f6ff" class="sf" textLength="17">Disarmed</text>
<!-- normal icon -->
<g transform="translate(0,4.600)"><rect x="78" y="14" width="9.500" height="10" rx="1.500" fill="none" stroke="#dfe8ff" stroke-width="0.800"/>
<path d="M80.300 16 h5 v3.500 c0 2 -1.500 3 -2.500 3.500 c-1 -0.500 -2.500 -1.500 -2.500 -3.500z" fill="#fff"/>
<path d="M82.800 16 v7 M80.300 19 h5" stroke="#2f5de6" stroke-width="0.600"/></g>
<text x="70.200" y="37.800" font-size="4.300" font-weight="bold" fill="#f4f6ff" class="sf" textLength="13.500">Normal</text>
<text x="45.600" y="52.800" font-size="5.200" font-weight="bold" fill="#f4f6ff" class="sf" textLength="45.600">2017-07-31 Tuesday</text>
<!-- bottom icons -->
<circle cx="9.600" cy="69.500" r="4.300" fill="none" stroke="#fff" stroke-width="0.900"/>
<path d="M7.800 67.200 c-0.500 2.500 1 4.500 3.600 4.400" stroke="#fff" stroke-width="1.300" fill="none"/>
<text x="0.600" y="80.800" font-size="4" font-weight="bold" fill="#f4f6ff" class="sf">Call</text>
<rect x="26.500" y="68.800" width="6" height="4.600" fill="#fff"/>
<path d="M27.700 68.800 v-1.600 a1.800 1.800 0 0 1 3.600 0 v1.600" stroke="#fff" stroke-width="0.900" fill="none"/>
<text x="21" y="80.800" font-size="4" font-weight="bold" fill="#f4f6ff" class="sf">Arm</text>
<circle cx="48.800" cy="69.500" r="4.300" fill="none" stroke="#fff" stroke-width="0.900"/>
<text x="48.800" y="70.800" font-size="3.400" font-weight="bold" text-anchor="middle" fill="#fff">sos</text>
<text x="40.800" y="80.800" font-size="4" font-weight="bold" fill="#f4f6ff" class="sf">SOS</text>
<rect x="64.500" y="69.800" width="6" height="4" fill="#fff"/>
<path d="M68.500 69.800 v-1.600 a1.800 1.800 0 0 1 3.600 0" stroke="#fff" stroke-width="0.900" fill="none"/>
<text x="60" y="80.800" font-size="4" font-weight="bold" fill="#f4f6ff" class="sf" textLength="14">Disarm</text>
<g fill="none" stroke="#fff" stroke-width="0.900"><rect x="84" y="64" width="3.600" height="3.600" rx="0.800"/><rect x="89.200" y="64" width="3.600" height="3.600" rx="0.800"/><rect x="84" y="69.200" width="3.600" height="3.600" rx="0.800"/><rect x="89.200" y="69.200" width="3.600" height="3.600" rx="0.800"/></g>
<text x="80" y="80.800" font-size="4" font-weight="bold" fill="#f4f6ff" class="sf" textLength="12">Home</text>
</g>
<!-- KEYPAD -->
<g transform="translate(766.500,0) skewY(-3.120)" fill="#fff" text-anchor="middle" filter="url(#t0)">
<g font-size="16.600">
<text x="0" y="220.500" textLength="7.500" lengthAdjust="spacingAndGlyphs">1</text>
<text x="44.400" y="220.500" textLength="8" lengthAdjust="spacingAndGlyphs">2</text>
<text x="88.100" y="220.500" textLength="8" lengthAdjust="spacingAndGlyphs">3</text>
<text x="-0.300" y="265.400" textLength="8.200" lengthAdjust="spacingAndGlyphs">4</text>
<text x="44.400" y="265.400" textLength="8" lengthAdjust="spacingAndGlyphs">5</text>
<text x="88.100" y="265.400" textLength="8" lengthAdjust="spacingAndGlyphs">6</text>
<text x="0" y="309.800" textLength="8" lengthAdjust="spacingAndGlyphs">7</text>
<text x="44.400" y="309.800" textLength="8" lengthAdjust="spacingAndGlyphs">8</text>
<text x="88.100" y="309.800" textLength="8" lengthAdjust="spacingAndGlyphs">9</text>
<text x="43.900" y="353.400" textLength="8" lengthAdjust="spacingAndGlyphs">0</text>
</g>
<g font-size="5.600" fill="#f0f0f0">
<text x="0.500" y="227.300" textLength="12.200" lengthAdjust="spacingAndGlyphs">CALL</text>
<text x="44.200" y="226.900" textLength="9.700" lengthAdjust="spacingAndGlyphs">ABC</text>
<text x="87.700" y="226.700" textLength="8.500" lengthAdjust="spacingAndGlyphs">DEF</text>
<text x="-0.200" y="271.400" textLength="8.800" lengthAdjust="spacingAndGlyphs">GHI</text>
<text x="44.400" y="271" textLength="8" lengthAdjust="spacingAndGlyphs">JKL</text>
<text x="88.100" y="270.800" textLength="10.900" lengthAdjust="spacingAndGlyphs">MNO</text>
<text x="0" y="315.600" textLength="12.800" lengthAdjust="spacingAndGlyphs">PQRS</text>
<text x="44.400" y="315.500" textLength="9" lengthAdjust="spacingAndGlyphs">TUV</text>
<text x="88.300" y="315" textLength="14" lengthAdjust="spacingAndGlyphs">WXYZ</text>
<text x="0.200" y="360.200" textLength="15.900" lengthAdjust="spacingAndGlyphs">ARM ✱</text>
<text x="43.700" y="360.300" textLength="9.900" lengthAdjust="spacingAndGlyphs">SOS</text>
<text x="87.900" y="359.500" textLength="18.400" lengthAdjust="spacingAndGlyphs">DISARM #</text>
</g>
<!-- arrows -->
<g stroke="#fff" stroke-width="1.300" fill="none">
<path d="M131.400 211 V225.200"/>
<path d="M131 255 V267"/>
<path d="M126 303.200 H134.500 a3.600 3.600 0 0 1 0 7.200 H128"/>
<path d="M126 351.200 L130 354.300 L138.200 343.800" stroke-width="1.400"/>
</g>
<path d="M131.400 209.800 L133.800 215 L129 215Z"/>
<path d="M131 268.800 L133.400 263.400 L128.600 263.400Z"/>
<path d="M124.400 303.200 L129.800 300 L129.800 306.400Z"/>
<!-- lock -->
<rect x="-3.700" y="348" width="9" height="6" rx="0.600"/>
<path d="M-1.900 348 v-1.800 a2.700 2.700 0 0 1 5.400 0 v1.800" stroke="#fff" stroke-width="1.400" fill="none"/>
<rect x="-1.300" y="350" width="4.200" height="1.600" fill="#060405"/>
<!-- unlock -->
<rect x="82.500" y="346.700" width="8.400" height="6" rx="0.600"/>
<path d="M88.400 346.700 v-2 a2.700 2.700 0 0 1 5.400 0 v0.600" stroke="#fff" stroke-width="1.400" fill="none"/>
<rect x="84.400" y="348.700" width="4.200" height="1.600" fill="#060405"/>
</g>
<!-- RFID -->
<g transform="translate(862.400,1) skewY(-2.800)" filter="url(#t0)">
<text x="0" y="423.500" font-size="13.800" font-weight="bold" fill="#0c0c0c" stroke="#0c0c0c" stroke-width="0.350" textLength="42" lengthAdjust="spacingAndGlyphs">RFID</text>
<g fill="none" stroke="#0c0c0c" stroke-width="1.600" stroke-linecap="butt">
<path d="M38 414 A4 4 0 0 1 42 418"/>
<path d="M38 411.200 A6.800 6.800 0 0 1 44.800 418"/>
<path d="M38 408.400 A9.600 9.600 0 0 1 47.600 418"/>
<path d="M38 405.600 A12.400 12.400 0 0 1 50.400 418"/>
</g>
</g>
</g>
<!-- PANELE -->
<!-- PHONES -->
<g id="phone">
<defs>
<linearGradient id="phGray" x1="0" x2="1" y1="0" y2="0"><stop offset="0" stop-color="#a9a9a9"/><stop offset="1" stop-color="#9a9a9a"/></linearGradient>
<linearGradient id="phScr" x1="0" x2="0.300" y1="0" y2="1"><stop offset="0" stop-color="#222128"/><stop offset="0.500" stop-color="#29262c"/><stop offset="0.850" stop-color="#2e2a2d"/><stop offset="1" stop-color="#262428"/></linearGradient>
<clipPath id="phClip"><rect x="705.200" y="585.300" width="101.800" height="218.200" rx="11.500"/></clipPath>
</defs>
<rect x="705.200" y="585.300" width="101.800" height="218.200" rx="11.500" fill="#050505"/>
<g clip-path="url(#phClip)">
<path d="M706.500 586.500 H763.800 L759.200 604.200 H706.500Z" fill="url(#phGray)"/>
<rect x="707.800" y="604.300" width="97.500" height="183.300" fill="url(#phScr)"/>
<ellipse cx="722" cy="745" rx="22" ry="40" fill="#3a3033" opacity="0.450" filter="url(#b6)"/>
<ellipse cx="790" cy="730" rx="18" ry="40" fill="#2f2c3a" opacity="0.500" filter="url(#b6)"/>
<rect x="707.800" y="786.800" width="97.500" height="0.800" fill="#4a4648"/>
</g>
<circle cx="756" cy="594.700" r="2.500" fill="#0a0a0a"/>
<circle cx="756" cy="594.700" r="1" fill="#2c2c30"/>
<!-- status -->
<g fill="#f2f2f2">
<circle cx="710.800" cy="607.400" r="0.800"/><circle cx="712.700" cy="607.400" r="0.800"/><circle cx="714.600" cy="607.400" r="0.800"/><circle cx="716.500" cy="607.400" r="0.800"/><circle cx="718.400" cy="607.400" r="0.800"/>
<rect x="796" y="606" width="6" height="2.800" rx="0.700"/>
</g>
<text x="721.500" y="609" font-size="4.200" fill="#a9a9ad" textLength="14.500" lengthAdjust="spacingAndGlyphs">中国移动</text>
<text x="748.700" y="609" font-size="4.200" fill="#d0d0d4" textLength="15.700" lengthAdjust="spacingAndGlyphs">下午12:28</text>
<text x="757.200" y="629.200" font-size="14" text-anchor="middle" fill="#f4f4f4" stroke="#f4f4f4" stroke-width="0.500" textLength="20.400" lengthAdjust="spacingAndGlyphs" filter="url(#t0)">110</text>
<!-- siren -->
<g fill="none" stroke="#f4f4f4" stroke-width="1.900" filter="url(#t0)">
<path d="M748.200 666 V657.500 A8.700 8.700 0 0 1 765.600 657.500 V666 Z"/>
<path d="M744 669.200 H769.800" stroke-width="2"/>
<path d="M757 639.200 V645.500 M746.200 642.500 L750 648 M767.400 642.300 L763.800 648 M740.500 650.500 L746 653.500 M773.500 650.200 L768 653.300" stroke-width="1.500"/>
</g>
<!-- small icons -->
<g fill="#e6e6e6">
<path d="M725.800 723.500 h5.400 v3.500 a2.700 2.700 0 0 1 -5.400 0z"/>
<circle cx="726" cy="723.200" r="0.85"/><circle cx="731" cy="723.200" r="0.85"/>
<ellipse cx="784.800" cy="725.600" rx="3.800" ry="2.900"/>
<path d="M782 727 l-0.600 2.400 l2.600 -1.600z"/>
</g>
<text x="728.500" y="735.800" font-size="3.600" text-anchor="middle" fill="#9a9a9e">提醒我</text>
<text x="784.800" y="735.800" font-size="3.600" text-anchor="middle" fill="#9a9a9e">信息</text>
<circle cx="728.500" cy="758.800" r="11.300" fill="#f03a30"/>
<circle cx="784.800" cy="758.800" r="11.300" fill="#3dc25a"/>
<path d="M722.800 760.500 C724.500 756.500 732.500 756.500 734.200 760.500 L732.200 761.500 C731 759.800 726 759.800 724.800 761.500Z" fill="#fff" stroke="#fff" stroke-width="1" stroke-linejoin="round"/>
<path d="M781 753.800 C780.500 758 784.500 763 789.300 763.500 L790 761.200 L787.600 759.800 L786.400 760.800 C785 760 783.800 758.500 783.400 757.200 L784.500 756 L783.300 753.300 Z" fill="#fff" stroke="#fff" stroke-width="0.800" stroke-linejoin="round"/>
<text x="728.500" y="775.600" font-size="3.600" text-anchor="middle" fill="#b0b0b4">拒绝</text>
<text x="784.800" y="775.600" font-size="3.600" text-anchor="middle" fill="#b0b0b4">接听</text>
</g>
<!-- PHONEE -->
</svg>
</body></html>
